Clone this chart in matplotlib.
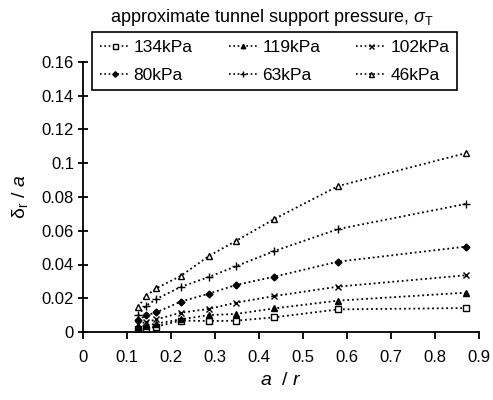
import matplotlib
matplotlib.use("Agg")
import matplotlib.pyplot as plt
from matplotlib.lines import Line2D

plt.rcParams['font.family'] = ['Liberation Sans', 'DejaVu Sans']
plt.rcParams['mathtext.fontset'] = 'custom'
plt.rcParams['mathtext.rm'] = 'Liberation Sans'
plt.rcParams['mathtext.it'] = 'Liberation Sans:italic'

x_ratio = [0.125, 0.143, 0.167, 0.222, 0.286, 0.348, 0.435, 0.58, 0.87]

labels = ['134kPa', '119kPa', '102kPa', '80kPa', '63kPa', '46kPa']
s134 = [0.002, 0.002, 0.0032, 0.0068, 0.0065, 0.0067, 0.0087, 0.0134, 0.0142]
s119 = [0.003, 0.0038, 0.005, 0.0075, 0.010, 0.0107, 0.014, 0.0186, 0.0233]
s102 = [0.005, 0.0058, 0.0075, 0.0114, 0.0137, 0.0174, 0.0213, 0.0269, 0.0336]
s80 = [0.007, 0.0098, 0.0117, 0.018, 0.0227, 0.0279, 0.0328, 0.0417, 0.0506]
s63 = [0.010, 0.0154, 0.0196, 0.0267, 0.0326, 0.039, 0.048, 0.061, 0.0759]
s46 = [0.0148, 0.0213, 0.026, 0.0332, 0.045, 0.054, 0.067, 0.0865, 0.106]

series = [s134, s119, s102, s80, s63, s46]
markers = ['s', '^', 'x', 'D', '+', '^']
mfc = ['white', 'black', 'black', 'black', 'black', 'white']
msz = [4.5, 4, 4.5, 3.5, 5.5, 4.5]

fig = plt.figure(figsize=(4.93, 4.0), dpi=100)
ax = fig.add_axes([83/493, 68/400, 396/493, 270/400])

for ys, m, fc, ms in zip(series, markers, mfc, msz):
    ax.plot(x_ratio, ys, linestyle=(0, (1, 1.6)), color='black', linewidth=1.3,
            marker=m, markersize=ms, markerfacecolor=fc, markeredgecolor='black',
            markeredgewidth=1.0)

ax.set_xlim(0, 0.9)
ax.set_ylim(0, 0.16)
ax.set_xticks([0, 0.1, 0.2, 0.3, 0.4, 0.5, 0.6, 0.7, 0.8, 0.9])
ax.set_xticklabels(['0', '0.1', '0.2', '0.3', '0.4', '0.5', '0.6', '0.7', '0.8', '0.9'])
ax.set_yticks([0, 0.02, 0.04, 0.06, 0.08, 0.1, 0.12, 0.14, 0.16])
ax.set_yticklabels(['0', '0.02', '0.04', '0.06', '0.08', '0.1', '0.12', '0.14', '0.16'])
ax.spines['top'].set_visible(False)
ax.spines['right'].set_visible(False)
ax.spines['left'].set_linewidth(1.3)
ax.spines['bottom'].set_linewidth(1.3)
ax.tick_params(axis='x', direction='out', length=5, width=1.3, labelsize=12, pad=8)
ax.tick_params(axis='y', direction='inout', length=7, width=1.3, labelsize=12, pad=3)

ax.set_xlabel(r'$a$  / $r$', fontsize=14, labelpad=5)
ax.set_ylabel(r'δ$_{\mathrm{r}}$ / $a$', fontsize=14, labelpad=8)

handles = [Line2D([0], [0], linestyle=(0, (1, 1.6)), color='black', linewidth=1.2, marker=m,
                  markersize=ms*0.8, markerfacecolor=fc, markeredgecolor='black')
           for m, fc, ms in zip(markers, mfc, msz)]
# reorder so matplotlib's column-major fill gives row-major order
order = [0, 3, 1, 4, 2, 5]
fig.text(272/493, 1 - 18/400, r'approximate tunnel support pressure, $\sigma_{\mathrm{T}}$',
         ha='center', va='center', fontsize=13)
leg = fig.legend([handles[i] for i in order], [labels[i] for i in order], ncol=3,
                 loc='upper left',
                 bbox_to_anchor=(92/493, 1 - 88/400, 365/493, 56/400),
                 mode='expand', frameon=True, fancybox=False, fontsize=12.5,
                 handlelength=1.7, handletextpad=0.25, columnspacing=0.8,
                 borderaxespad=0, labelspacing=0.72, borderpad=0.45, framealpha=1)
leg.get_frame().set_edgecolor('black')
leg.get_frame().set_linewidth(1.2)

fig.savefig('out.png', dpi=100)
